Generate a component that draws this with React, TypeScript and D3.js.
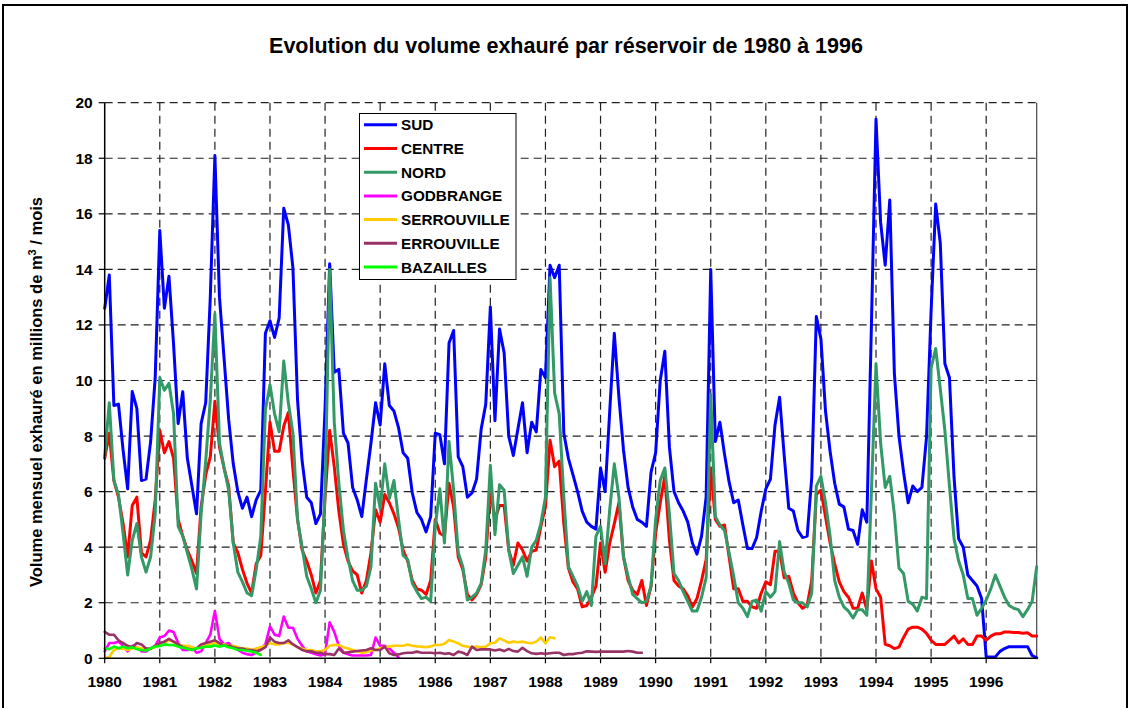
import React from "react";
import * as d3 from "d3";

// Monthly values (millions m3 / month), index 0 = Jan 1980
const SUD = [
  12.6, 13.8, 9.1, 9.15, 7.5, 6.1, 9.6, 9.0, 6.4, 6.45, 7.8, 10.1,
  15.4, 12.6, 13.75, 11.3, 8.45, 9.6, 7.2, 6.2, 5.2, 8.45, 9.2, 13.0,
  18.1, 13.0, 10.8, 8.6, 7.0, 6.0, 5.4, 5.8, 5.1, 5.7, 6.05, 11.7,
  12.15, 11.55, 12.25, 16.2, 15.6, 14.05, 9.3, 7.1, 5.8, 5.6, 4.85, 5.2,
  9.0, 14.2, 10.3, 10.4, 8.1, 7.75, 6.15, 5.7, 5.1, 6.45, 7.75, 9.2,
  8.4, 10.6, 9.1, 8.9, 8.3, 7.4, 7.2, 5.95, 5.25, 5.0, 4.55, 5.1,
  8.1, 8.05, 7.0, 11.35, 11.8, 7.25, 6.9, 5.8, 5.95, 6.45, 8.25, 9.15,
  12.65, 8.55, 11.85, 11.0, 8.0, 7.3, 8.25, 9.2, 7.4, 8.5, 8.15, 10.4,
  10.1, 14.15, 13.7, 14.15, 8.1, 7.2, 6.6, 6.0, 5.3, 4.9, 4.75, 4.65,
  6.85, 6.0, 8.9, 11.7, 9.4, 7.5, 6.15, 5.45, 5.0, 4.9, 4.75, 6.7,
  7.4, 10.0, 11.05, 7.6, 6.0, 5.6, 5.3, 4.9, 4.15, 3.75, 4.4, 5.8,
  14.0, 7.8, 8.5, 7.35, 6.35, 5.6, 5.7, 4.8, 3.95, 3.95, 4.35, 5.3,
  6.1, 6.45, 8.4, 9.4, 7.3, 5.4, 5.3, 4.6, 4.35, 4.4, 6.5, 12.3,
  11.5, 8.9, 7.45, 6.3, 5.55, 5.45, 4.65, 4.6, 4.1, 5.35, 4.9, 12.0,
  19.4, 15.7, 14.15, 16.5, 10.25, 8.0, 6.7, 5.6, 6.2, 6.0, 6.15, 7.95,
  12.5, 16.35, 14.95, 10.6, 10.1, 6.5, 4.3, 4.0, 3.0, 2.8, 2.6, 2.15,
  0.05, 0.05, 0.05, 0.25, 0.35, 0.42, 0.42, 0.42, 0.42, 0.42, 0.1, 0.02,
];

const CENTRE = [
  7.2, 8.1, 6.4, 5.8, 4.85, 3.65, 5.5, 5.8, 3.8, 3.65, 4.25, 5.7,
  8.2, 7.4, 7.8, 7.2, 5.0, 4.4, 3.9, 3.5, 3.05, 5.45, 6.6, 7.25,
  9.25, 7.6, 6.85, 6.2, 4.15, 3.8, 3.2, 2.7, 2.35, 3.4, 3.7, 6.0,
  8.5, 7.45, 7.45, 8.35, 8.85, 6.8, 5.0, 3.9, 3.5, 3.0, 2.35, 2.8,
  5.8, 8.2, 6.9, 5.3, 4.1, 3.5, 3.15, 3.0, 2.35, 2.8, 3.8, 5.35,
  4.9, 5.9, 5.6, 5.2, 4.7, 3.9, 3.5, 2.8, 2.5, 2.45, 2.3, 2.8,
  5.0, 4.5, 4.4, 6.3, 5.45, 3.65, 3.2, 2.3, 2.1, 2.3, 2.65, 3.65,
  6.05, 5.0, 5.5, 5.5, 3.9, 3.35, 4.15, 3.9, 3.5, 3.85, 3.9, 4.75,
  5.45, 7.85, 6.9, 7.1, 4.85, 3.25, 2.75, 2.5, 1.85, 1.9, 2.2, 2.6,
  4.15, 3.1, 4.15, 4.85, 5.6, 3.65, 2.8, 2.45, 2.3, 2.8, 1.9, 2.6,
  4.5, 5.6, 6.55, 4.25, 2.8, 2.6, 2.5, 2.25, 1.85, 2.15, 2.8, 3.55,
  6.85, 5.0, 4.75, 4.8, 3.65, 2.5, 2.5, 2.05, 2.05, 1.85, 1.8, 2.35,
  2.75, 2.65, 3.85, 3.85, 2.9, 2.95, 2.35, 2.0, 1.8, 1.9, 2.8, 5.9,
  6.05, 5.1, 4.15, 3.4, 2.75, 2.4, 2.2, 1.8, 1.8, 2.35, 1.75, 3.5,
  2.5, 2.2, 0.5, 0.45, 0.35, 0.4, 0.75, 1.05, 1.12, 1.12, 1.05, 0.9,
  0.65, 0.5, 0.5, 0.5, 0.65, 0.8, 0.55, 0.7, 0.5, 0.5, 0.8, 0.8,
  0.65, 0.8, 0.88, 0.88, 0.95, 0.95, 0.93, 0.93, 0.9, 0.92, 0.8, 0.8,
];

const NORD = [
  7.25, 9.2, 6.4, 5.9, 4.5, 3.0, 4.25, 4.85, 3.65, 3.1, 3.65, 5.2,
  10.1, 9.65, 9.9, 8.8, 4.75, 4.4, 3.8, 3.2, 2.5, 5.2, 7.1, 9.3,
  12.4, 7.75, 6.85, 6.05, 4.15, 3.1, 2.75, 2.35, 2.25, 3.2, 4.4, 8.95,
  9.85, 8.8, 8.15, 10.7, 9.2, 8.1, 5.0, 4.0, 2.95, 2.5, 2.0, 2.45,
  6.0, 14.0, 8.5, 6.3, 4.6, 3.6, 2.8, 2.45, 2.45, 2.6, 3.3, 6.3,
  5.4, 7.0, 5.75, 6.4, 5.0, 3.7, 3.55, 2.7, 2.4, 2.15, 2.2, 2.05,
  4.75, 6.1, 4.15, 7.8, 6.05, 3.8, 3.3, 2.1, 2.2, 2.35, 2.7, 3.9,
  6.95, 4.45, 6.25, 6.05, 3.9, 3.05, 3.35, 3.65, 2.95, 4.0, 4.25, 4.85,
  5.8, 13.7, 9.55, 8.8, 5.8, 3.3, 2.95, 2.6, 2.05, 2.4, 1.9, 4.4,
  4.75, 3.4, 5.35, 7.0, 5.8, 3.65, 2.95, 2.3, 2.15, 2.0, 2.05, 2.6,
  5.0, 6.4, 6.85, 5.2, 3.05, 2.8, 2.4, 2.05, 1.7, 1.7, 2.2, 2.9,
  9.5, 5.1, 4.8, 4.6, 3.8, 2.95, 2.0, 1.8, 1.5, 2.05, 2.1, 1.7,
  2.4, 2.2, 2.4, 4.2, 3.1, 2.7, 2.1, 2.0, 2.0, 1.85, 2.35, 6.2,
  6.55, 5.6, 4.4, 2.8, 2.2, 1.85, 1.7, 1.45, 1.75, 1.75, 1.55, 6.0,
  10.6, 7.75, 6.15, 6.55, 5.2, 3.25, 3.05, 2.05, 1.95, 1.7, 2.2, 2.15,
  10.45, 11.15, 9.7, 8.2, 6.2, 4.3, 3.5, 3.0, 2.15, 2.15, 1.55, 1.8,
  2.1, 2.5, 3.0, 2.6, 2.2, 1.9, 1.8, 1.75, 1.5, 1.75, 2.05, 3.3,
];

const GODBRANGE = [
  0.25, 0.55, 0.55, 0.6, 0.45, 0.25, 0.45, 0.4, 0.25, 0.25, 0.35, 0.45,
  0.75, 0.8, 1.0, 0.95, 0.55, 0.3, 0.3, 0.4, 0.2, 0.25, 0.55, 0.85,
  1.7, 0.7, 0.5, 0.55, 0.4, 0.3, 0.2, 0.15, 0.12, 0.2, 0.35, 0.5,
  1.15, 0.85, 0.8, 1.5, 1.1, 1.1, 0.7, 0.45, 0.25, 0.2, 0.15, 0.1,
  0.15, 1.3, 0.95, 0.45, 0.2, 0.15, 0.1, 0.1, 0.1, 0.1, 0.12, 0.75,
  0.45, 0.45, 0.35, 0.2, 0.02,
];

const SERROUVILLE = [
  0.0, 0.05, 0.3, 0.35, 0.35, 0.3, 0.35, 0.4, 0.35, 0.3, 0.35, 0.4,
  0.5, 0.55, 0.65, 0.6, 0.5, 0.45, 0.45, 0.4, 0.35, 0.4, 0.5, 0.5,
  0.55, 0.5, 0.5, 0.45, 0.45, 0.4, 0.35, 0.35, 0.3, 0.35, 0.4, 0.45,
  0.55, 0.5, 0.5, 0.55, 0.55, 0.5, 0.4, 0.35, 0.3, 0.3, 0.25, 0.25,
  0.3, 0.45, 0.48, 0.48, 0.4, 0.35, 0.3, 0.25, 0.2, 0.22, 0.28, 0.3,
  0.36, 0.4, 0.42, 0.45, 0.45, 0.45, 0.5, 0.45, 0.43, 0.42, 0.4, 0.43,
  0.48, 0.48, 0.52, 0.66, 0.6, 0.54, 0.45, 0.42, 0.38, 0.42, 0.4, 0.42,
  0.54, 0.56, 0.72, 0.64, 0.56, 0.6, 0.58, 0.6, 0.56, 0.54, 0.6, 0.75,
  0.54, 0.76, 0.72,
];

const ERROUVILLE = [
  0.95, 0.85, 0.85, 0.65, 0.55, 0.45, 0.4, 0.55, 0.5, 0.35, 0.35, 0.45,
  0.55, 0.6, 0.7, 0.6, 0.5, 0.4, 0.35, 0.3, 0.35, 0.5, 0.55, 0.6,
  0.65, 0.55, 0.45, 0.45, 0.4, 0.35, 0.35, 0.3, 0.3, 0.25, 0.3, 0.4,
  0.75, 0.6, 0.55, 0.55, 0.65, 0.5, 0.4, 0.3, 0.25, 0.25, 0.2, 0.2,
  0.15, 0.15, 0.12, 0.35, 0.2, 0.22, 0.24, 0.26, 0.28, 0.3, 0.36, 0.3,
  0.3, 0.42, 0.18, 0.12, 0.14, 0.18, 0.2, 0.2, 0.24, 0.2, 0.2, 0.2,
  0.18, 0.2, 0.16, 0.18, 0.12, 0.24, 0.2, 0.12, 0.42, 0.3, 0.32, 0.32,
  0.32, 0.28, 0.32, 0.26, 0.34, 0.26, 0.24, 0.38, 0.26, 0.18, 0.16, 0.18,
  0.16, 0.18, 0.2, 0.2, 0.12, 0.15, 0.15, 0.18, 0.2, 0.25, 0.24, 0.23,
  0.24, 0.24, 0.24, 0.24, 0.24, 0.24, 0.26, 0.24, 0.2, 0.2,
];

const BAZAILLES = [
  0.36, 0.33, 0.42, 0.36, 0.42, 0.36, 0.4, 0.33, 0.3, 0.28, 0.36, 0.42,
  0.44, 0.5, 0.48, 0.48, 0.42, 0.38, 0.34, 0.3, 0.36, 0.38, 0.42, 0.42,
  0.46, 0.42, 0.46, 0.4, 0.36, 0.3, 0.3, 0.27, 0.24, 0.2, 0.12,
];

const YEARS = ["1980", "1981", "1982", "1983", "1984", "1985", "1986", "1987", "1988",
  "1989", "1990", "1991", "1992", "1993", "1994", "1995", "1996"];
const Y_TICKS = [0, 2, 4, 6, 8, 10, 12, 14, 16, 18, 20];

const SERIES = [
  { name: "SUD", values: SUD, color: "#0000FF", w: 3 },
  { name: "CENTRE", values: CENTRE, color: "#FF0000", w: 3 },
  { name: "NORD", values: NORD, color: "#339966", w: 3 },
  { name: "GODBRANGE", values: GODBRANGE, color: "#FF00FF", w: 2.6 },
  { name: "SERROUVILLE", values: SERROUVILLE, color: "#FFCC00", w: 2.6 },
  { name: "ERROUVILLE", values: ERROUVILLE, color: "#993366", w: 2.6 },
  { name: "BAZAILLES", values: BAZAILLES, color: "#00FF00", w: 2.6 },
];

const FONT = "'Liberation Sans', Arial, Helvetica, sans-serif";

export default function App() {
  const W = 1130, H = 708;
  const left = 104.7, right = 1036.7, top = 102.7, bottom = 658.3;
  const x = d3.scaleLinear().domain([0, 203]).range([left, right]);
  const y = d3.scaleLinear().domain([0, 20]).range([bottom, top]);
  const line = d3.line<number>().x((_, i) => x(i)).y((d) => y(d));

  return (
    <svg width={W} height={H} style={{ position: "absolute", left: 0, top: 0, background: "#fff" }}
      fontFamily={FONT}>
      <rect x={0} y={0} width={W} height={H} fill="#fff" />
      <rect x={3} y={5} width={1124} height={730} fill="none" stroke="#000" strokeWidth={2} />
      <text x={566} y={53} textAnchor="middle" fontSize={21.5} fontWeight="bold">
        Evolution du volume exhauré par réservoir de 1980 à 1996
      </text>

      {/* grid */}
      {Y_TICKS.filter((t) => t > 0).map((t) => (
        <line key={"h" + t} x1={left} x2={right} y1={y(t)} y2={y(t)} stroke="#222"
          strokeWidth={1.2} strokeDasharray="8,5" />
      ))}
      {YEARS.map((yr, i) => i > 0 && (
        <line key={"v" + yr} x1={x(i * 12)} x2={x(i * 12)} y1={top} y2={bottom} stroke="#222"
          strokeWidth={1.2} strokeDasharray="8,5" />
      ))}
      <line x1={right} x2={right} y1={top} y2={bottom} stroke="#444" strokeWidth={1.2} />

      {/* series */}
      {SERIES.map((s) => (
        <path key={s.name} d={line(s.values) || ""} fill="none" stroke={s.color}
          strokeWidth={s.w} strokeLinejoin="round" strokeLinecap="round" />
      ))}

      {/* axes */}
      <line x1={left} x2={left} y1={top} y2={bottom} stroke="#000" strokeWidth={1.5} />
      <line x1={left} x2={right} y1={bottom} y2={bottom} stroke="#000" strokeWidth={1.5} />
      {Y_TICKS.map((t) => (
        <g key={"yt" + t}>
          <line x1={left - 6} x2={left} y1={y(t)} y2={y(t)} stroke="#000" strokeWidth={1.2} />
          <text x={left - 12} y={y(t) + 5.5} textAnchor="end" fontSize={15.5} fontWeight="bold">{t}</text>
        </g>
      ))}
      {YEARS.map((yr, i) => (
        <g key={"xt" + yr}>
          <line x1={x(i * 12)} x2={x(i * 12)} y1={bottom} y2={bottom + 5} stroke="#000" strokeWidth={1.2} />
          <text x={x(i * 12)} y={bottom + 29} textAnchor="middle" fontSize={15.5} fontWeight="bold">{yr}</text>
        </g>
      ))}

      <text transform={`translate(42,392) rotate(-90)`} textAnchor="middle"
        fontSize={16.5} fontWeight="bold">
        Volume mensuel exhauré en millions de m<tspan dy={-6} fontSize={11}>3</tspan>
        <tspan dy={6}> / mois</tspan>
      </text>

      {/* legend */}
      <rect x={359.5} y={113.5} width={156.5} height={166} fill="#fff" stroke="#000" strokeWidth={1} />
      {SERIES.map((s, i) => {
        const cy = 124.8 + i * 23.7;
        return (
          <g key={"lg" + s.name}>
            <line x1={364} x2={397} y1={cy} y2={cy} stroke={s.color} strokeWidth={3} />
            <text x={401} y={cy + 5.5} fontSize={15.3} fontWeight="bold">{s.name}</text>
          </g>
        );
      })}
    </svg>
  );
}
